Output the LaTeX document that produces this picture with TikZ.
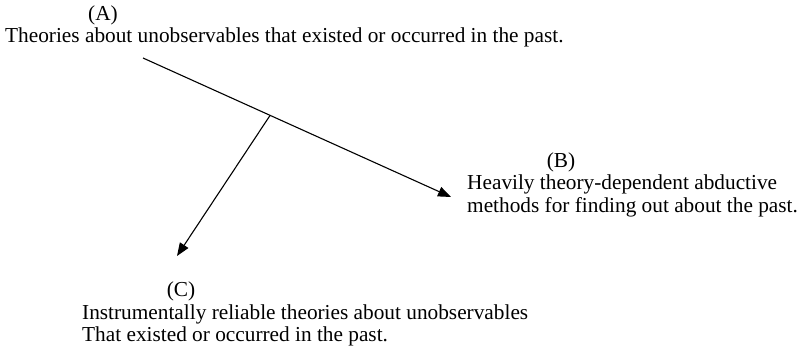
\documentclass[tikz,border=0pt]{standalone}
\usepackage{fontspec}
\setmainfont{Liberation Serif}
\usetikzlibrary{arrows.meta}
\begin{document}
\begin{tikzpicture}[x=1pt,y=-1pt,
  lbl/.style={inner sep=0pt,anchor=base west,font=\fontsize{21.3}{25}\selectfont},
  tag/.style={inner sep=0pt,anchor=base,font=\fontsize{21.3}{25}\selectfont},
  conn/.style={line width=1.1pt,-{Triangle[length=13pt,width=10pt]}}]
\useasboundingbox (0,0) rectangle (802,345);
\node[tag] (ta) at (103,21) {(A)};
\node[lbl] (a) at (5,42) {Theories about unobservables that existed or occurred in the past.};
\node[tag] (tb) at (561,167) {(B)};
\node[lbl] (b1) at (467,189) {Heavily theory-dependent abductive};
\node[lbl] (b2) at (467,212) {methods for finding out about the past.};
\node[tag] (tc) at (181,296) {(C)};
\node[lbl] (c1) at (82,319) {Instrumentally reliable theories about unobservables};
\node[lbl] (c2) at (82,341) {That existed or occurred in the past.};
\coordinate (s) at (143,58);
\coordinate (e) at (451,197);
\coordinate (m) at (270,115.5);
\coordinate (ce) at (177,256);
\draw[conn] (s) -- (e);
\draw[conn] (m) -- (ce);
\end{tikzpicture}
\end{document}
